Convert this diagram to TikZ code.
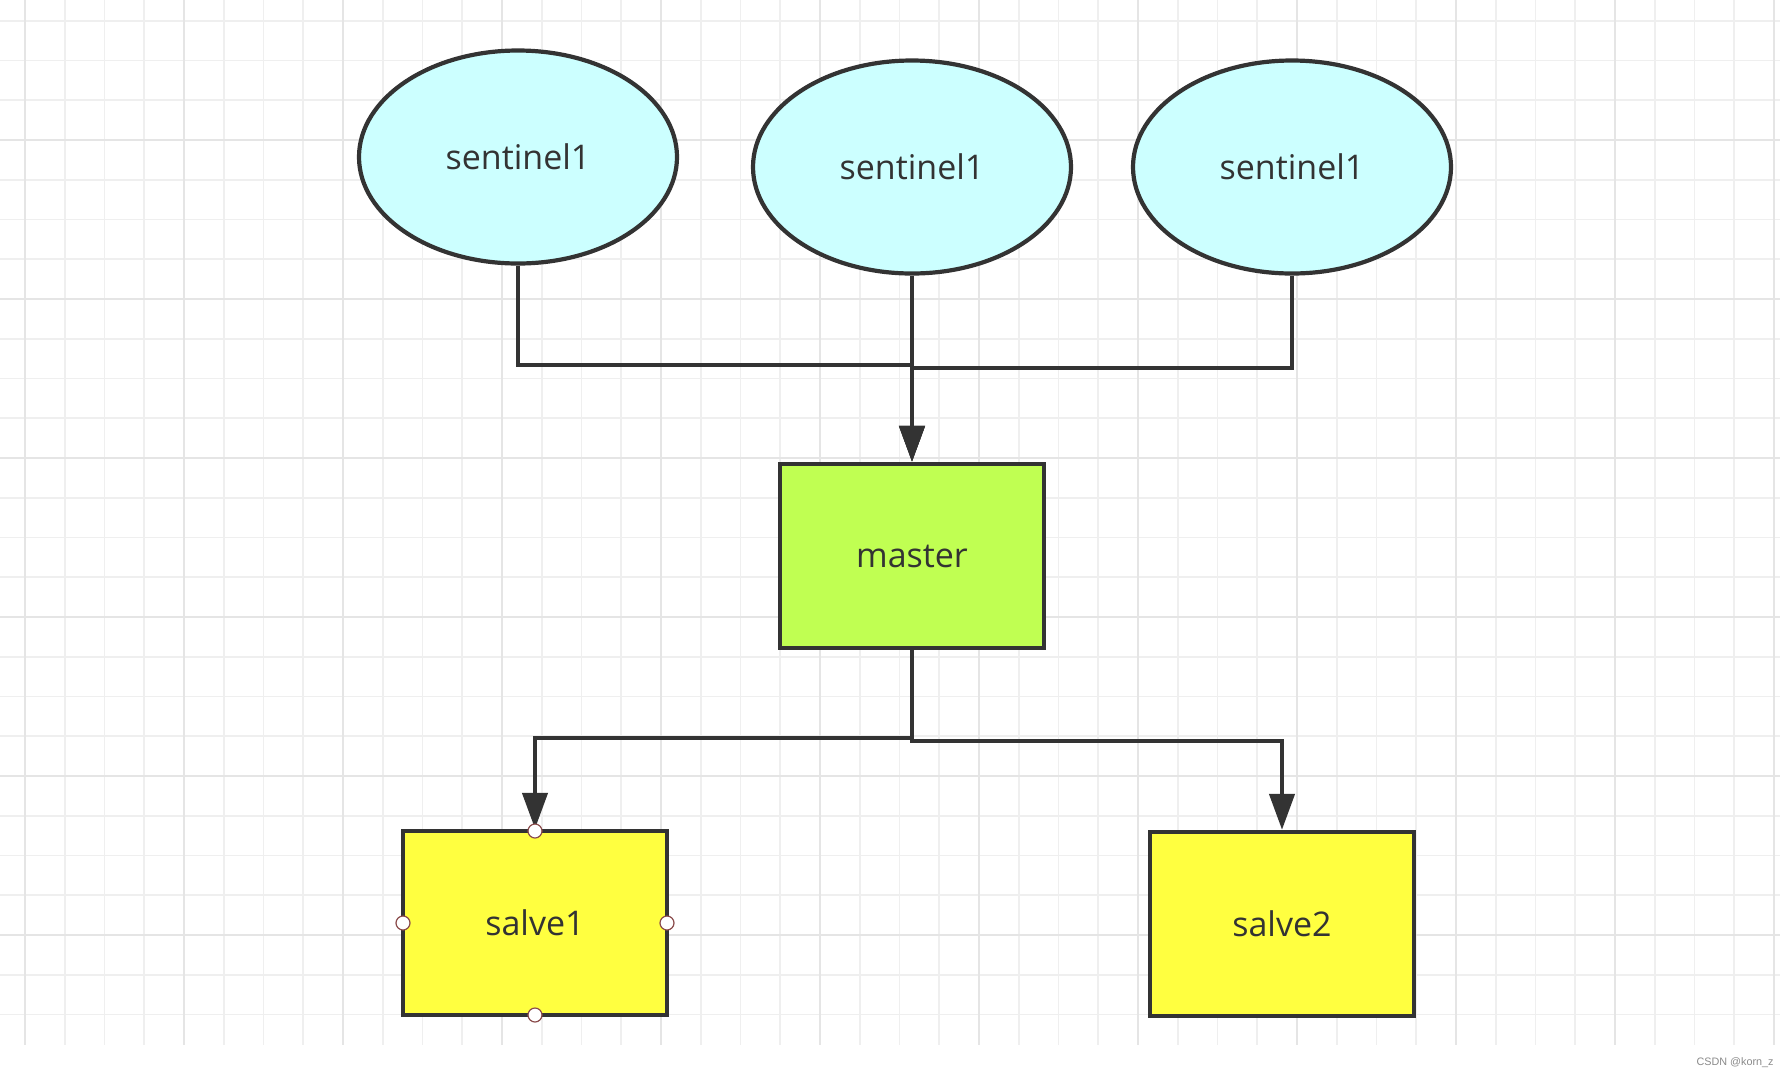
\documentclass[tikz,border=0pt]{standalone}
\usepackage{fontspec}
\setmainfont{Open Sans}
\newfontfamily\wmfont{Liberation Sans}
\usetikzlibrary{shapes.geometric,arrows.meta}
\definecolor{cyanfill}{HTML}{CCFFFF}
\definecolor{limefill}{HTML}{C0FF52}
\definecolor{yelfill}{HTML}{FFFF40}
\definecolor{ink}{HTML}{333333}
\definecolor{gridminor}{HTML}{EFEFEF}
\definecolor{gridmajor}{HTML}{E5E5E5}
\definecolor{handlecol}{HTML}{8A4B4B}
\definecolor{wmgray}{HTML}{8A8A8A}
\begin{document}
\begin{tikzpicture}[x=0.5pt,y=-0.5pt,
  labelfont/.style={font=\fontsize{17}{20}\selectfont, text=ink},
  sent/.style={ellipse, draw=ink, line width=2.1pt, fill=cyanfill,
    minimum width=159pt, minimum height=106.5pt, inner sep=0pt, labelfont},
  mbox/.style={rectangle, draw=ink, line width=2.2pt,
    minimum width=132pt, minimum height=92pt, inner sep=0pt, labelfont},
  conn/.style={draw=ink, line width=2.2pt},
  arr/.style={conn, -{Triangle[length=18pt,width=12.5pt]}},
  handlept/.style={circle, draw=handlecol, fill=white, line width=0.6pt,
    minimum size=7pt, inner sep=0pt},
  gminor/.style={draw=gridminor, line width=0.8pt},
  gmajor/.style={draw=gridmajor, line width=1.2pt}]
\useasboundingbox (0,0) rectangle (1789,1078);
\fill[white] (0,0) rectangle (1789,1078);
% grid
\foreach \k in {0,...,44} \draw[gminor] ({25+39.75*\k},0) -- ({25+39.75*\k},1045);
\foreach \k in {-3,...,22} \draw[gminor] (0,{140+39.75*\k}) -- (1780,{140+39.75*\k});
\foreach \k in {0,...,11} \draw[gmajor] ({25+159*\k},0) -- ({25+159*\k},1045);
\foreach \k in {0,...,5} \draw[gmajor] (0,{140+159*\k}) -- (1780,{140+159*\k});
% nodes
\node[sent] (s1) at (518,157) {sentinel1};
\node[sent] (s2) at (912,167) {sentinel1};
\node[sent] (s3) at (1292,167) {sentinel1};
\node[mbox, fill=limefill] (master) at (912,556) {master};
\node[mbox, fill=yelfill] (sl1) at (535,923) {salve1};
\node[mbox, fill=yelfill] (sl2) at (1282,924) {salve2};
% connectors
\coordinate (j1) at (912,365);
\coordinate (j3) at (912,368);
\coordinate (k1) at (535,738);
\coordinate (k2) at (1282,741);
\draw[arr] (s1.south) |- (j1) -- (master.north);
\draw[arr] (s3.south) |- (j3) -- (master.north);
\draw[arr] (s2.south) -- (master.north);
\draw[arr] (master.south) |- (k1) -- (sl1.north);
\draw[arr] (master.south) |- (k2) -- (sl2.north);
% handles
\node[handlept] (h1) at ([yshift=-1.1pt]sl1.north) {};
\node[handlept] (h2) at ([yshift=1.1pt]sl1.south) {};
\node[handlept] (h3) at ([xshift=1.1pt]sl1.west) {};
\node[handlept] (h4) at ([xshift=-1.1pt]sl1.east) {};
% watermark
\node[anchor=east, inner sep=0pt, font=\wmfont\fontsize{5.4}{6}\selectfont, text=wmgray] (wm) at (1774,1063) {CSDN @korn\_z};
\end{tikzpicture}
\end{document}
